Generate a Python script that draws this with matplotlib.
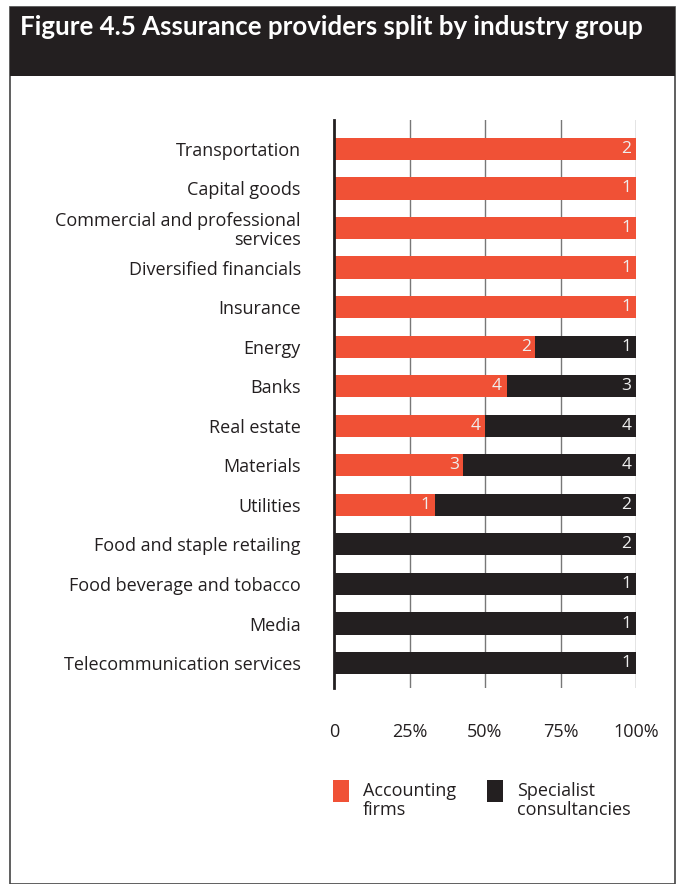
import matplotlib
matplotlib.use('Agg')
from matplotlib import pyplot as plt
from matplotlib.patches import Rectangle

plt.rcParams['font.family'] = ['Open Sans', 'DejaVu Sans']

categories = ['Transportation', 'Capital goods', 'Commercial and professional\nservices',
              'Diversified financials', 'Insurance', 'Energy', 'Banks', 'Real estate',
              'Materials', 'Utilities', 'Food and staple retailing',
              'Food beverage and tobacco', 'Media', 'Telecommunication services']
accounting = [2, 1, 1, 1, 1, 2, 4, 4, 3, 1, 0, 0, 0, 0]
specialist = [0, 0, 0, 0, 0, 1, 3, 4, 4, 2, 2, 1, 1, 1]
tick_vals = [0, 25, 50, 75, 100]
tick_labels = ['0', '25%', '50%', '75%', '100%']

red = '#F05136'
dark = '#231F20'

fig = plt.figure(figsize=(6.83, 8.84), dpi=100)

# frame and title bar
fig.patches.append(Rectangle((10 / 683, 0), 665 / 683, 1 - 7 / 884, transform=fig.transFigure,
                             fill=False, edgecolor='#444444', linewidth=1.2))
fig.patches.append(Rectangle((10 / 683, 1 - 76 / 884), 665 / 683, 69 / 884, transform=fig.transFigure,
                             facecolor=dark, edgecolor='none'))
fig.text(20 / 683, 1 - 27 / 884, 'Figure 4.5 Assurance providers split by industry group',
         color='white', fontsize=18.6, fontweight='bold', va='center', ha='left', family='Lato')

ax = fig.add_axes([334 / 683, 1 - 688 / 884, 302 / 683, 568 / 884])

n = len(categories)
ypos = list(range(n))
acc_pct = []
spe_pct = []
for a, s in zip(accounting, specialist):
    acc_pct.append(100.0 * a / (a + s))
    spe_pct.append(100.0 * s / (a + s))

ax.barh(ypos, acc_pct, height=0.56, color=red, zorder=3)
ax.barh(ypos, spe_pct, left=acc_pct, height=0.56, color=dark, zorder=3)

for i in range(n):
    if accounting[i] > 0:
        ax.text(acc_pct[i] - 1.5, i, str(accounting[i]), ha='right', va='center',
                color='#eeeeee', fontsize=12.5, zorder=4)
    if specialist[i] > 0:
        ax.text(98.5, i, str(specialist[i]), ha='right', va='center',
                color='#eeeeee', fontsize=12.5, zorder=4)

ax.set_xlim(0, 100)
ax.set_ylim(n - 1 + 0.63, -0.73)
ax.set_yticks(ypos)
ax.set_yticklabels(categories, fontsize=13, color='#231F20', linespacing=1.1)
for lab in ax.get_yticklabels():
    lab.set_multialignment('right')
ax.set_xticks(tick_vals)
ax.set_xticklabels(tick_labels, fontsize=13, color='#231F20')
ax.tick_params(axis='both', length=0)
ax.tick_params(axis='y', pad=24)
ax.tick_params(axis='x', pad=25)
for v in tick_vals[1:]:
    ax.axvline(v, color='#777777', linewidth=1, zorder=1)
for side in ['top', 'right', 'bottom']:
    ax.spines[side].set_visible(False)
ax.spines['left'].set_linewidth(2)
ax.spines['left'].set_color(dark)
ax.spines['left'].set_zorder(5)

# legend
fig.patches.append(Rectangle((333 / 683, 1 - 802 / 884), 16 / 683, 22 / 884, transform=fig.transFigure,
                             facecolor=red, edgecolor='none'))
fig.text(363 / 683, 1 - 782 / 884, 'Accounting\nfirms', fontsize=13, color=dark,
         va='top', ha='left', linespacing=1.05)
fig.patches.append(Rectangle((487 / 683, 1 - 802 / 884), 16 / 683, 22 / 884, transform=fig.transFigure,
                             facecolor=dark, edgecolor='none'))
fig.text(517 / 683, 1 - 782 / 884, 'Specialist\nconsultancies', fontsize=13, color=dark,
         va='top', ha='left', linespacing=1.05)

fig.savefig('out.png', dpi=100)
